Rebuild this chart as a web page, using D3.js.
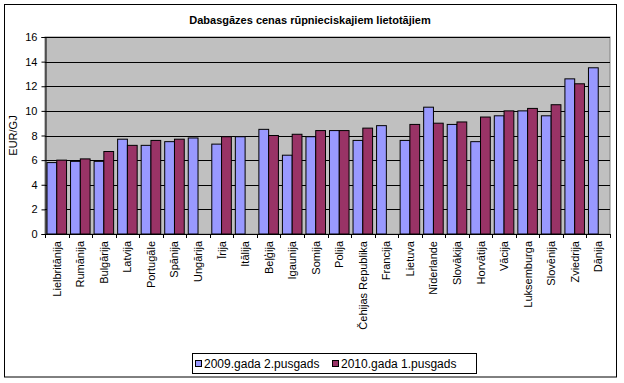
<!DOCTYPE html>
<html>
<head>
<meta charset="utf-8">
<script src="https://cdn.jsdelivr.net/npm/d3@7/dist/d3.min.js"></script>
<style>
  html, body { margin: 0; padding: 0; background: #fff; }
  svg { display: block; font-family: Arial, "Liberation Sans", sans-serif; }
</style>
</head>
<body>
<svg id="chart" width="624" height="383"></svg>
<script>
const categories = ["Lielbritānija", "Rumānija", "Bulgārija", "Latvija", "Portugāle", "Spānija", "Ungārija", "Īrija", "Itālija", "Beļģija", "Igaunija", "Somija", "Polija", "Čehijas Republika", "Francija", "Lietuva", "Nīderlande", "Slovākija", "Horvātija", "Vācija", "Luksemburga", "Slovēnija", "Zviedrija", "Dānija"];
const series2009 = [5.8, 5.9, 5.9, 7.7, 7.2, 7.5, 7.8, 7.3, 7.9, 8.5, 6.4, 7.9, 8.4, 7.6, 8.8, 7.6, 10.3, 8.9, 7.5, 9.6, 10.0, 9.6, 12.6, 13.5];
const series2010 = [6.0, 6.1, 6.7, 7.2, 7.6, 7.7, null, 7.9, null, 8.0, 8.1, 8.4, 8.4, 8.6, null, 8.9, 9.0, 9.1, 9.5, 10.0, 10.2, 10.5, 12.2, null];
const seriesNames = ["2009.gada 2.pusgads", "2010.gada 1.pusgads"];
const seriesColors = ["#9999FF", "#993366"];
const yTicks = [0, 2, 4, 6, 8, 10, 12, 14, 16];
const chartTitle = "Dabasgāzes cenas rūpnieciskajiem lietotājiem";
const yTitle = "EUR/GJ";

(function () {
const svg = d3.select("#chart");
const pLeft = 45, pRight = 610, pTop = 37, pBottom = 234;

// outer border
svg.append("rect").attr("x", 4.5).attr("y", 4.5).attr("width", 612).attr("height", 372.5)
  .attr("fill", "#fff").attr("stroke", "#000").attr("stroke-width", 1);

// title
svg.append("text").attr("x", 310).attr("y", 24).attr("text-anchor", "middle")
  .attr("font-size", 11).attr("font-weight", "bold").text(chartTitle);

const x0 = d3.scaleBand().domain(categories).range([pLeft, pRight]).padding(0);
const x1 = d3.scaleBand().domain([0, 1]).range([2, x0.bandwidth() - 2]).padding(0);
const y = d3.scaleLinear().domain([0, 16]).range([pBottom, pTop]);

// plot area
svg.append("rect").attr("x", pLeft).attr("y", pTop).attr("width", pRight - pLeft).attr("height", pBottom - pTop)
  .attr("fill", "#C0C0C0").attr("stroke", "#808080").attr("stroke-width", 1);

// gridlines
svg.append("g").selectAll("line").data(yTicks.filter(d => d > 0)).join("line")
  .attr("x1", pLeft).attr("x2", pRight)
  .attr("y1", d => Math.round(y(d)) + 0.5).attr("y2", d => Math.round(y(d)) + 0.5)
  .attr("stroke", "#000").attr("stroke-width", 1);

// bars
const data = [];
categories.forEach((c, i) => {
  [series2009[i], series2010[i]].forEach((v, s) => {
    if (v != null) data.push({ c, s, v });
  });
});
svg.append("g").selectAll("rect").data(data).join("rect")
  .attr("x", d => x0(d.c) + x1(d.s))
  .attr("width", x1.bandwidth())
  .attr("y", d => y(d.v))
  .attr("height", d => y(0) - y(d.v))
  .attr("fill", d => seriesColors[d.s])
  .attr("stroke", "#000").attr("stroke-width", 1);

// y axis
const yAxis = d3.axisLeft(y).tickValues(yTicks).tickSize(4).tickPadding(4).tickFormat(d3.format("d"));
const gy = svg.append("g").attr("transform", `translate(${pLeft + 0.5},0)`).call(yAxis);
gy.selectAll("text").attr("font-size", 11).attr("font-family", "Arial, 'Liberation Sans', sans-serif").attr("fill", "#000");
gy.selectAll("line, path").attr("stroke", "#000");

// x axis line and ticks at category boundaries
svg.append("line").attr("x1", pLeft).attr("x2", pRight).attr("y1", pBottom + 0.5).attr("y2", pBottom + 0.5).attr("stroke", "#000");
const boundaries = categories.map(c => x0(c)).concat([pRight]);
svg.append("g").selectAll("line").data(boundaries).join("line")
  .attr("x1", d => Math.round(d) + 0.5).attr("x2", d => Math.round(d) + 0.5)
  .attr("y1", pBottom).attr("y2", pBottom + 4).attr("stroke", "#000");

// x labels rotated
svg.append("g").selectAll("text").data(categories).join("text")
  .attr("transform", d => `translate(${x0(d) + x0.bandwidth() / 2 + 4},${pBottom + 7}) rotate(-90)`)
  .attr("text-anchor", "end").attr("font-size", 11).text(d => d);

// y title
svg.append("text").attr("transform", `translate(17,${(pTop + pBottom) / 2}) rotate(-90)`)
  .attr("text-anchor", "middle").attr("font-size", 11).text(yTitle);

// legend
const lg = svg.append("g");
lg.append("rect").attr("x", 192.5).attr("y", 353.5).attr("width", 284).attr("height", 20)
  .attr("fill", "#fff").attr("stroke", "#000");
const legendX = [195, 332];
seriesNames.forEach((n, i) => {
  lg.append("rect").attr("x", legendX[i] + 0.5).attr("y", 360.5).attr("width", 6).attr("height", 6)
    .attr("fill", seriesColors[i]).attr("stroke", "#000");
  lg.append("text").attr("x", legendX[i] + 9).attr("y", 368).attr("font-size", 12).text(n);
});
})();
</script>
</body>
</html>
